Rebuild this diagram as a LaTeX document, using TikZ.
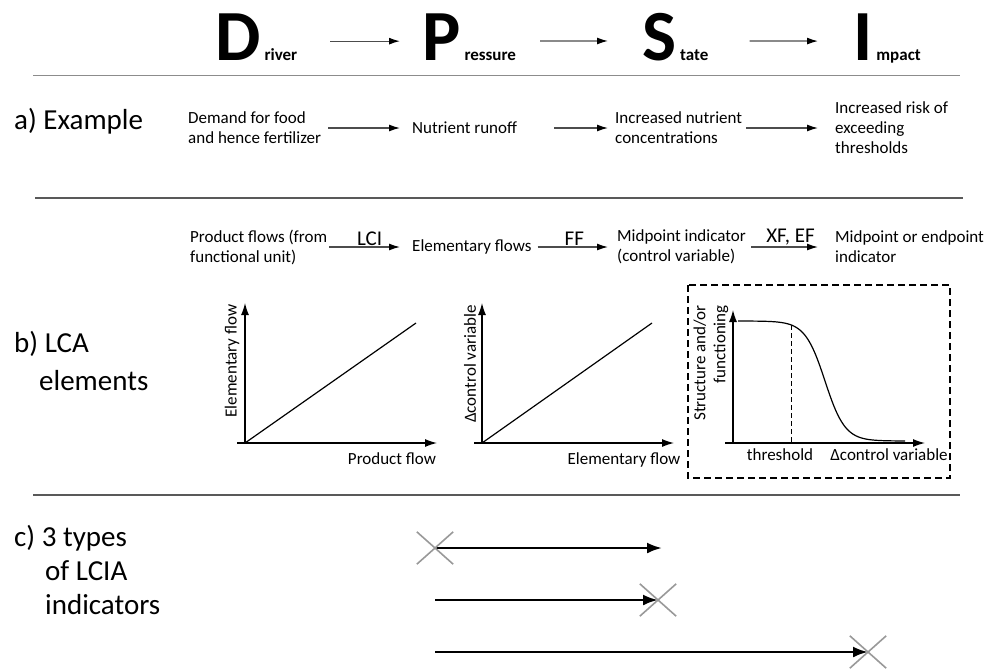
\documentclass[tikz,border=0pt]{standalone}
\usepackage{fontspec}
\setmainfont{Carlito}
\usetikzlibrary{arrows.meta,shapes.misc}
\begin{document}
\begin{tikzpicture}
      [
      x=1pt, y=-1pt,
      letter/.style={font=\bfseries, inner sep=0pt, text depth=9pt, anchor=base west},
      txt/.style={font=\fontsize{17}{20}\selectfont, align=left, inner sep=0pt, anchor=west},
      axislabel/.style={font=\fontsize{17}{20}\selectfont, inner sep=0pt},
      section/.style={font=\fontsize{29}{34}\selectfont, align=left, inner sep=0pt, anchor=base west},
      flow/.style={draw=black!70, line width=1.3pt, -{Latex[length=11pt,width=7pt,black]}},
      factor/.style={font=\fontsize{21}{21}\selectfont, inner sep=1pt, above},
      axis/.style={line width=1.2pt, -{Latex[length=12pt,width=8pt]}},
      rule/.style={line width=1.8pt},
      track/.style={line width=2.6pt, -{Latex[length=15pt,width=11pt]}},
      endmark/.style={cross out, inner sep=0pt, minimum width=36pt, minimum height=32pt},
      crossline/.style={draw=black!40, line width=1.6pt}
      ]
      \useasboundingbox (0,0) rectangle (998,670);
      % DPSI headline
      \node (drv) at (215,60) [letter] {{\fontsize{72}{72}\selectfont D}\hspace{4pt}{\fontsize{17}{17}\selectfont river}};
      \node (prs) at (422,60) [letter] {{\fontsize{72}{72}\selectfont P}\hspace{4pt}{\fontsize{17}{17}\selectfont ressure}};
      \node (sta) at (642,60) [letter] {{\fontsize{72}{72}\selectfont S}\hspace{4pt}{\fontsize{17}{17}\selectfont tate}};
      \node (imp) at (853,60) [letter] {{\fontsize{72}{72}\selectfont I}\hspace{4pt}{\fontsize{17}{17}\selectfont mpact}};
      \draw [flow, shorten <=33pt, shorten >=22pt] (drv) to (prs);
      \draw [flow, shorten <=24pt, shorten >=34pt] (prs) to (sta);
      \draw [flow, shorten <=41pt, shorten >=35pt] (sta) to (imp);
      \draw [rule, draw=black!45] (33,75.5) -- (960,75.5);
      % a) example
      \node (seca) at (14,129) [section] {a) Example};
      \node (dem) at (188,128) [txt] {Demand for food\\and hence fertilizer};
      \node (runoff) at (412,128) [txt] {Nutrient runoff};
      \node (conc) at (615,128) [txt] {Increased nutrient\\concentrations};
      \node (risk) at (835,128) [txt] {Increased risk of\\exceeding\\thresholds};
      \draw [flow, shorten <=7pt, shorten >=12pt] (dem) to (runoff);
      \draw [flow, shorten <=37pt, shorten >=7pt] (runoff) to (conc);
      \draw [flow, shorten <=4pt, shorten >=17pt] (conc) to (risk);
      \draw [rule, draw=black!65] (35,198) -- (963,198);
      % b) LCA elements
      \node (secb) at (14,390) [section, font=\fontsize{29}{38}\selectfont] {b) LCA\\\hspace*{25pt}elements};
      \node (prod) at (190,247) [txt] {Product flows (from\\functional unit)};
      \node (elem) at (412,247) [txt] {Elementary flows};
      \node (mid) at (617,247) [txt] {Midpoint indicator\\(control variable)};
      \node (mpe) at (835,247) [txt] {Midpoint or endpoint\\indicator};
      \draw [flow, shorten <=2pt, shorten >=12pt] (prod) to node [factor] {LCI} (elem);
      \draw [flow, shorten <=6pt, shorten >=9pt] (elem) to node [factor] {FF} (mid);
      \draw [flow, shorten <=5pt, shorten >=17pt] (mid) to node [factor] {XF, EF} (mpe);
      % graph 1
      \draw [axis] (245,443) -- (245,303);
      \draw [axis] (237,443) -- (437,443);
      \draw [line width=1.2pt] (245,443) -- (416,323);
      \node (ylab1) at (232,361) [axislabel, rotate=90] {Elementary flow};
      \node (xlab1) at (392,459) [axislabel] {Product flow};
      % graph 2
      \draw [axis] (482,443) -- (482,303);
      \draw [axis] (474,443) -- (674,443);
      \draw [line width=1.2pt] (482,443) -- (652,323);
      \node (ylab2) at (470,364) [axislabel, rotate=90] {Δcontrol variable};
      \node (xlab2) at (624,460) [axislabel] {Elementary flow};
      % graph 3
      \draw [line width=1.2pt, dash pattern=on 7pt off 4pt] (688,285) rectangle (950,478);
      \draw [axis] (733,443) -- (733,310);
      \draw [axis] (725,443) -- (925,443);
      \draw [line width=1.2pt, domain=738:905, samples=90, smooth] plot (\x, {321+120/(1+exp(-(\x-825)/10))});
      \draw [line width=0.8pt, dash pattern=on 5pt off 3pt] (791,325) -- (791,443);
      \node (ylab3) at (711,305) [axislabel, rotate=90, anchor=east, align=right] {Structure and/or\\functioning};
      \node (thr) at (780,455) [axislabel] {threshold};
      \node (xlab3) at (889,455) [axislabel] {Δcontrol variable};
      \draw [rule, draw=black!65] (33,495) -- (960,495);
      % c) indicator types
      \node (secc) at (14,614) [section] {c) 3 types\\\hspace*{31pt}of LCIA\\\hspace*{31pt}indicators};
      \node (x1) at (435,548) [endmark] {};
      \node (x2) at (658,600) [endmark] {};
      \node (x3) at (868,652) [endmark] {};
      \coordinate (e1) at (662,548);
      \coordinate (s2) at (435,600);
      \coordinate (s3) at (435,652);
      \draw [track] (x1.center) -- (e1);
      \draw [track] (s2) -- (x2.center);
      \draw [track] (s3) -- (x3.center);
      \foreach \m in {x1,x2,x3}
        \draw [crossline] (\m.north west) -- (\m.south east) (\m.north east) -- (\m.south west);
\end{tikzpicture}
\end{document}
